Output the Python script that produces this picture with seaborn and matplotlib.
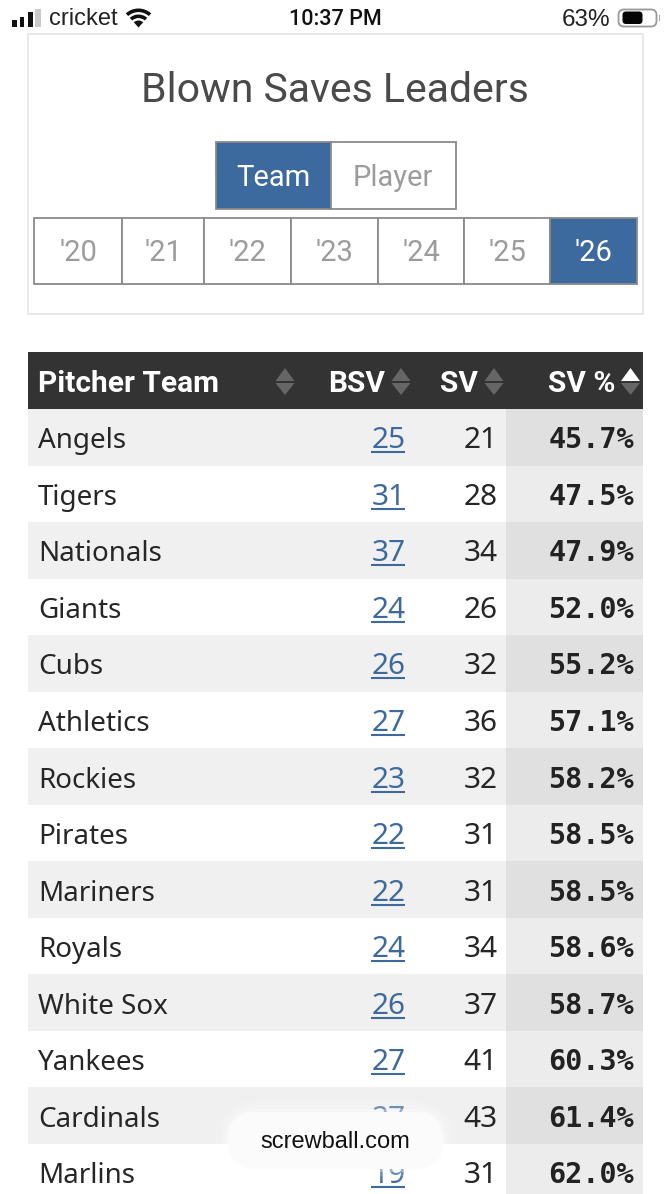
import numpy as np
import matplotlib
matplotlib.use("Agg")
import matplotlib.pyplot as plt
from matplotlib.patches import Rectangle, FancyBboxPatch, Polygon, Wedge
import seaborn as sns

# table values
teams = ["Angels", "Tigers", "Nationals", "Giants", "Cubs", "Athletics", "Rockies",
         "Pirates", "Mariners", "Royals", "White Sox", "Yankees", "Cardinals", "Marlins"]
bsv = [25, 31, 37, 24, 26, 27, 23, 22, 22, 24, 26, 27, 27, 19]
sv = [21, 28, 34, 26, 32, 36, 32, 31, 31, 34, 37, 41, 43, 31]
sv_pct = [45.7, 47.5, 47.9, 52.0, 55.2, 57.1, 58.2, 58.5, 58.5, 58.6, 58.7, 60.3, 61.4, 62.0]
years = ["'20", "'21", "'22", "'23", "'24", "'25", "'26"]
year_edges = [34, 122, 204, 291, 378, 464, 550, 637]

W, H = 671, 1194
BLUE = "#3d6a9e"
GREY = "#8a8a8a"
ROW_H = 56.54
ROW_TOP = 409

sns.set_theme(style="white")
plt.rcParams["font.family"] = ["Roboto", "DejaVu Sans"]

fig = plt.figure(figsize=(W / 100, H / 100), dpi=100, facecolor="white")

# ------------------------------------------
# striped table body, 9 columns so SV % gets the last 2
# ------------------------------------------
n = len(teams)
stripe = np.array([[0.94, 0.875] if i % 2 == 0 else [1.0, 0.925] for i in range(n)])
shade = np.repeat(stripe, [7, 2], axis=1)
ax_tbl = fig.add_axes([28 / W, 1 - (ROW_TOP + n * ROW_H) / H, 615 / W, n * ROW_H / H])
sns.heatmap(shade, cmap="gray", vmin=0, vmax=1, cbar=False, ax=ax_tbl,
            xticklabels=False, yticklabels=False)

# overlay in pixel coordinates for everything else
ax = fig.add_axes([0, 0, 1, 1], facecolor="none")
ax.set_xlim(0, W)
ax.set_ylim(H, 0)
ax.axis("off")


def box(x0, y0, x1, y1, fc="white", ec="none", lw=1.0, z=2):
    ax.add_patch(Rectangle((x0, y0), x1 - x0, y1 - y0, fc=fc, ec=ec, lw=lw, zorder=z))


def caret(cx, y_tip, y_base, color):
    ax.add_patch(Polygon([(cx - 9.5, y_base), (cx + 9.5, y_base), (cx, y_tip)],
                         closed=True, fc=color, ec="none", zorder=4))


# status bar
for x0, x1, top, col in [(12, 16.5, 20, "#111111"), (19.5, 24, 16.5, "#111111"),
                         (27.5, 33, 12, "#111111"), (35, 41, 9, "#c9c9c9")]:
    box(x0, top, x1, 26.5, fc=col)
ax.text(49, 25, "cricket", fontsize=17, color="#222222", va="baseline", ha="left",
        family=["Liberation Sans", "DejaVu Sans"])
# y axis runs downward here, so the angles point the fan up
for r in [19, 13]:
    ax.add_patch(Wedge((138.5, 27.5), r, 228, 312, width=3.6, fc="#111111", ec="none", zorder=3))
ax.add_patch(Wedge((138.5, 27.5), 7, 228, 312, fc="#111111", ec="none", zorder=3))
ax.text(335, 25, "10:37 PM", fontsize=15.5, color="#111111", va="baseline", ha="center",
        fontweight="medium")
ax.text(610, 26, "63%", fontsize=17.5, color="#222222", va="baseline", ha="right",
        family=["Liberation Sans", "DejaVu Sans"])
ax.add_patch(FancyBboxPatch((621, 12), 33, 12, boxstyle="round,pad=2.5,rounding_size=5.5",
                            fc="white", ec="#999999", lw=1.3, zorder=3))
ax.add_patch(FancyBboxPatch((623.5, 12.5), 18, 10.5, boxstyle="round,pad=1,rounding_size=3.5",
                            fc="#050505", ec="none", zorder=4))
box(658.5, 15, 660, 21, fc="#a5a5a5", z=3)

# top card
box(28, 33.5, 643, 314, fc="white", ec="#e4e4e4", lw=1.2, z=1)
ax.text(335, 102, "Blown Saves Leaders", fontsize=29.5, color="#4a4a4a", ha="center",
        va="baseline", fontweight="normal")

# team / player toggle
box(215.5, 142, 331, 208.5, fc=BLUE, ec=GREY, lw=1.3)
box(331, 142, 455.5, 208.5, fc="white", ec=GREY, lw=1.3)
ax.text(273, 186, "Team", fontsize=21, color="white", ha="center", va="baseline")
ax.text(393, 186, "Player", fontsize=21, color="#9c9c9c", ha="center", va="baseline")

# year buttons
for i, yr in enumerate(years):
    on = i == len(years) - 1
    box(year_edges[i], 218, year_edges[i + 1], 284, fc=BLUE if on else "white", ec=GREY, lw=1.3)
    ax.text((year_edges[i] + year_edges[i + 1]) / 2, 261, yr, fontsize=21,
            color="white" if on else "#9c9c9c", ha="center", va="baseline")

# table header
box(28, 352, 643, 409, fc="#333333", z=2)
hdr_font = dict(fontsize=21.5, color="white", fontweight="bold", va="baseline")
ax.text(38, 392, "Pitcher Team", ha="left", **hdr_font)
ax.text(385, 392, "BSV", ha="right", **hdr_font)
ax.text(478, 392, "SV", ha="right", **hdr_font)
ax.text(615, 392, "SV %", ha="right", **hdr_font)
for cx, first in [(285, "#666666"), (401, "#666666"), (494, "#666666"), (630.5, "white")]:
    caret(cx, 368, 381, first)
    caret(cx, 395, 383, "#666666")

# table body text
body_font = dict(va="baseline", family=["Noto Sans", "DejaVu Sans"])
for i in range(n):
    y = ROW_TOP + (i + 0.5) * ROW_H + 11
    ax.text(38, y, teams[i], color="#262626", ha="left", fontsize=20, **body_font)
    ax.text(406, y, str(bsv[i]), color=BLUE, ha="right", fontsize=21.5, zorder=3, **body_font)
    ax.plot([371, 405], [y + 4, y + 4], color=BLUE, lw=1.5, zorder=3, solid_capstyle="butt")
    ax.text(497.5, y, str(sv[i]), color="#262626", ha="right", fontsize=21.5, **body_font)
    ax.text(634, y, f"{sv_pct[i]:.1f}%", color="#222222", ha="right", fontsize=20.5, fontweight="bold",
            va="baseline", family="DejaVu Sans Mono")

# floating url pill
for pad, a in [(12, 0.10), (7, 0.16), (3, 0.3)]:
    ax.add_patch(FancyBboxPatch((244 - pad, 1128 - pad), 183 + 2 * pad, 25 + 2 * pad,
                                boxstyle=f"round,pad=16,rounding_size={28 + pad}",
                                fc="white", ec="none", alpha=a, zorder=5))
ax.add_patch(FancyBboxPatch((244, 1128), 183, 25, boxstyle="round,pad=16,rounding_size=28",
                            fc="#fbfbfb", ec="none", zorder=6))
ax.text(335, 1148, "screwball.com", fontsize=17, color="#111111", ha="center", va="baseline",
        zorder=7, family=["Liberation Sans", "DejaVu Sans"])

fig.savefig("out.png", dpi=100)
